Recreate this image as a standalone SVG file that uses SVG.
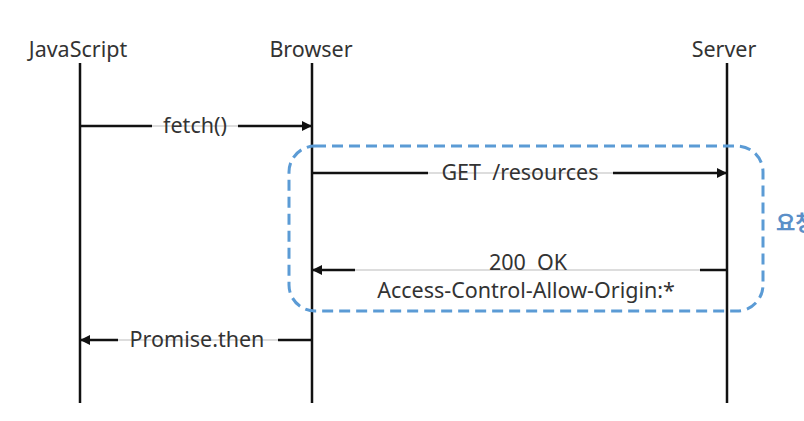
<svg xmlns="http://www.w3.org/2000/svg" width="804" height="421" viewBox="0 0 804 421">
<style>
.lbl{font-family:"Noto Sans","Noto Sans CJK KR",sans-serif;font-size:21.5px;fill:#333;white-space:pre}
.life{stroke:#111;stroke-width:2.5}
.msg{stroke:#111;stroke-width:2.5;fill:none}
.ghost{stroke:#ddd;stroke-width:2}
.kr{font-family:"Noto Sans CJK KR",sans-serif;font-size:21px;font-weight:bold;fill:#5b8fc8}
</style>
<defs>
<marker id="ah" viewBox="0 0 10 10" refX="10" refY="5" markerWidth="4" markerHeight="4" orient="auto-start-reverse">
<path d="M0,0 L10,5 L0,10 z" fill="#111"/>
</marker>
</defs>
<rect width="804" height="421" fill="#fff"/>
<g id="node-javascript">
<text class="lbl" x="78" y="57" text-anchor="middle">JavaScript</text>
<line class="life" x1="80" y1="63" x2="80" y2="403"/>
</g>
<g id="node-browser">
<text class="lbl" x="311" y="57" text-anchor="middle">Browser</text>
<line class="life" x1="312" y1="63" x2="312" y2="403"/>
</g>
<g id="node-server">
<text class="lbl" x="724" y="57" text-anchor="middle">Server</text>
<line class="life" x1="727" y1="63" x2="727" y2="403"/>
</g>
<g id="group-cors">
<rect x="289" y="146" width="474" height="165" rx="26" ry="26" fill="none" stroke="#5b9bd5" stroke-width="3" stroke-dasharray="11 6"/>
<text class="kr" x="776" y="230">요청</text>
</g>
<g id="connectors">
<line class="ghost" x1="152" y1="126" x2="238" y2="126"/>
<line class="msg" x1="80" y1="126" x2="152" y2="126"/>
<line class="msg" x1="238" y1="126" x2="312" y2="126" marker-end="url(#ah)"/>
<text class="lbl" x="195" y="133" text-anchor="middle">fetch()</text>

<line class="ghost" x1="428" y1="173" x2="613" y2="173"/>
<line class="msg" x1="312" y1="173" x2="428" y2="173"/>
<line class="msg" x1="613" y1="173" x2="727" y2="173" marker-end="url(#ah)"/>
<text class="lbl" x="520" y="180" text-anchor="middle" xml:space="preserve">GET  /resources</text>

<line class="ghost" x1="355" y1="270" x2="700" y2="270"/>
<line class="msg" x1="727" y1="270" x2="700" y2="270"/>
<line class="msg" x1="355" y1="270" x2="312" y2="270" marker-end="url(#ah)"/>
<text class="lbl" x="528" y="270" text-anchor="middle" xml:space="preserve">200  OK</text>
<text class="lbl" x="526" y="298" text-anchor="middle">Access-Control-Allow-Origin:*</text>

<line class="ghost" x1="118" y1="340" x2="278" y2="340"/>
<line class="msg" x1="312" y1="340" x2="278" y2="340"/>
<line class="msg" x1="118" y1="340" x2="80" y2="340" marker-end="url(#ah)"/>
<text class="lbl" x="197" y="347" text-anchor="middle">Promise.then</text>
</g>
</svg>
